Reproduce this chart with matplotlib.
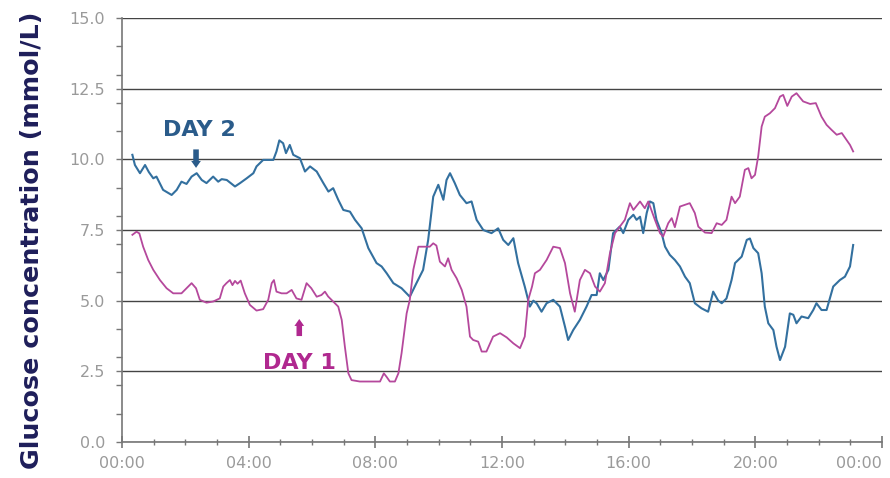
import matplotlib
matplotlib.use("Agg")
import matplotlib.pyplot as plt
from matplotlib.ticker import MultipleLocator

# hours since midnight and glucose (mmol/L)
day2_hours = [0.33, 0.41, 0.57, 0.73, 0.85, 0.99, 1.09, 1.30, 1.57, 1.73, 1.88, 2.04, 2.20, 2.36,
              2.52, 2.67, 2.88, 3.04, 3.15, 3.31, 3.57, 3.73, 3.94, 4.15, 4.25, 4.46, 4.78, 4.88,
              4.97, 5.09, 5.18, 5.30, 5.41, 5.62, 5.78, 5.94, 6.15, 6.36, 6.52, 6.67, 6.83, 6.99,
              7.20, 7.36, 7.57, 7.78, 8.04, 8.20, 8.36, 8.57, 8.83, 9.09, 9.30, 9.51, 9.67, 9.83,
              9.99, 10.15, 10.25, 10.36, 10.51, 10.67, 10.88, 11.04, 11.20, 11.41, 11.67, 11.88,
              12.04, 12.20, 12.36, 12.51, 12.72, 12.88, 12.99, 13.10, 13.25, 13.41, 13.62, 13.83,
              13.99, 14.09, 14.25, 14.46, 14.67, 14.83, 14.99, 15.09, 15.20, 15.36, 15.51, 15.72,
              15.83, 15.99, 16.15, 16.25, 16.36, 16.46, 16.57, 16.67, 16.78, 16.88, 17.04, 17.15,
              17.30, 17.46, 17.62, 17.78, 17.93, 18.09, 18.30, 18.51, 18.67, 18.83, 18.94, 19.09,
              19.25, 19.36, 19.57, 19.73, 19.83, 19.94, 20.09, 20.20, 20.30, 20.41, 20.57, 20.67,
              20.78, 20.94, 21.09, 21.20, 21.30, 21.46, 21.67, 21.83, 21.93, 22.09, 22.25, 22.46,
              22.67, 22.83, 22.99, 23.09]
day2_glucose = [10.16, 9.80, 9.51, 9.80, 9.55, 9.33, 9.39, 8.92, 8.74, 8.92, 9.21, 9.13, 9.39, 9.51,
                9.27, 9.16, 9.39, 9.21, 9.30, 9.27, 9.04, 9.16, 9.33, 9.51, 9.75, 9.98, 9.98, 10.28,
                10.67, 10.57, 10.22, 10.51, 10.16, 10.04, 9.57, 9.75, 9.57, 9.16, 8.86, 8.98, 8.57, 8.21,
                8.15, 7.86, 7.56, 6.86, 6.33, 6.21, 5.97, 5.62, 5.44, 5.14, 5.62, 6.09, 7.15, 8.68,
                9.10, 8.57, 9.27, 9.51, 9.16, 8.74, 8.45, 8.51, 7.86, 7.50, 7.39, 7.56,
                7.15, 6.97, 7.21, 6.33, 5.50, 4.79, 5.00, 4.90, 4.61, 4.91, 5.03, 4.79,
                4.08, 3.61, 3.96, 4.32, 4.79, 5.20, 5.20, 5.97, 5.73, 6.09, 7.39, 7.62,
                7.39, 7.86, 8.04, 7.86, 7.97, 7.39, 8.10, 8.51, 8.45, 7.86, 7.39, 6.91,
                6.62, 6.44, 6.21, 5.85, 5.62, 4.91, 4.73, 4.61, 5.32, 5.00, 4.91, 5.08,
                5.73, 6.33, 6.56, 7.15, 7.20, 6.86, 6.68, 5.97, 4.79, 4.20, 3.96, 3.37,
                2.90, 3.37, 4.55, 4.50, 4.20, 4.44, 4.38, 4.67, 4.91, 4.67, 4.67, 5.50,
                5.73, 5.85, 6.21, 6.97]

day1_hours = [0.33, 0.46, 0.55, 0.67, 0.83, 0.99, 1.20, 1.41, 1.62, 1.88, 2.04, 2.20, 2.34, 2.46,
              2.67, 2.88, 3.09, 3.20, 3.30, 3.41, 3.49, 3.57, 3.65, 3.75, 3.88, 4.04, 4.25, 4.46,
              4.62, 4.73, 4.80, 4.88, 5.04, 5.20, 5.36, 5.51, 5.67, 5.83, 5.98, 6.15, 6.30, 6.41,
              6.51, 6.67, 6.83, 6.94, 7.04, 7.15, 7.25, 7.51, 7.83, 8.15, 8.27, 8.36, 8.46, 8.62,
              8.73, 8.83, 8.99, 9.09, 9.20, 9.36, 9.57, 9.72, 9.83, 9.93, 10.04, 10.20, 10.30,
              10.41, 10.57, 10.73, 10.88, 10.99, 11.09, 11.25, 11.36, 11.51, 11.72, 11.94, 12.15,
              12.36, 12.57, 12.72, 12.83, 12.95, 13.04, 13.20, 13.41, 13.62, 13.83, 13.99, 14.15,
              14.30, 14.46, 14.62, 14.78, 14.94, 15.09, 15.25, 15.41, 15.57, 15.72, 15.88, 16.04,
              16.15, 16.25, 16.36, 16.51, 16.62, 16.72, 16.83, 16.99, 17.09, 17.25, 17.36, 17.46,
              17.62, 17.78, 17.93, 18.09, 18.20, 18.41, 18.62, 18.78, 18.94, 19.09, 19.25, 19.36,
              19.51, 19.67, 19.78, 19.88, 19.99, 20.09, 20.20, 20.30, 20.46, 20.62, 20.78, 20.88,
              21.01, 21.15, 21.30, 21.51, 21.73, 21.91, 22.09, 22.25, 22.41, 22.57, 22.73, 22.88,
              22.99, 23.09]
day1_glucose = [7.33, 7.44, 7.38, 6.91, 6.44, 6.09, 5.73, 5.44, 5.26, 5.26, 5.44, 5.62, 5.44, 5.03,
                4.93, 4.97, 5.08, 5.50, 5.62, 5.73, 5.55, 5.70, 5.60, 5.71, 5.26, 4.85, 4.65, 4.70,
                5.03, 5.62, 5.73, 5.32, 5.26, 5.26, 5.38, 5.08, 5.03, 5.62, 5.44, 5.14, 5.20, 5.32,
                5.15, 4.97, 4.79, 4.32, 3.37, 2.43, 2.19, 2.14, 2.14, 2.14, 2.43, 2.30, 2.14, 2.14,
                2.43, 3.14, 4.55, 5.03, 6.09, 6.91, 6.91, 6.91, 7.03, 6.95, 6.38, 6.21, 6.50,
                6.09, 5.79, 5.38, 4.79, 3.73, 3.61, 3.55, 3.20, 3.20, 3.73, 3.85, 3.70,
                3.49, 3.32, 3.73, 5.03, 5.50, 5.97, 6.09, 6.44, 6.91, 6.86, 6.33, 5.26,
                4.61, 5.73, 6.09, 5.97, 5.50, 5.32, 5.62, 6.68, 7.39, 7.62, 7.86, 8.45,
                8.21, 8.35, 8.51, 8.27, 8.51, 8.20, 7.86, 7.39, 7.27, 7.74, 7.92, 7.60,
                8.33, 8.39, 8.45, 8.10, 7.62, 7.41, 7.39, 7.74, 7.68, 7.86, 8.68, 8.45,
                8.68, 9.63, 9.69, 9.33, 9.45, 10.10, 11.16, 11.51, 11.63, 11.81, 12.22, 12.28,
                11.89, 12.22, 12.34, 12.05, 11.96, 11.99, 11.51, 11.22, 11.04, 10.87, 10.93, 10.69,
                10.51, 10.28]

tick_hours = [0, 4, 8, 12, 16, 20, 24]
tick_labels = ["00:00", "04:00", "08:00", "12:00", "16:00", "20:00", "00:00"]

blue = "#33709f"
magenta = "#b5489c"

fig = plt.figure(figsize=(8.9, 4.78), dpi=100)
ax = fig.add_axes([0.137, 0.0753, 0.854, 0.887])

ax.plot(day2_hours, day2_glucose, color=blue, linewidth=1.5)
ax.plot(day1_hours, day1_glucose, color=magenta, linewidth=1.3)

ax.set_xlim(0, 24)
ax.set_ylim(0, 15)
ax.set_xticks(tick_hours)
ax.set_xticklabels(tick_labels)
ax.xaxis.set_minor_locator(MultipleLocator(1))
ax.yaxis.set_major_locator(MultipleLocator(2.5))
ax.yaxis.set_minor_locator(MultipleLocator(1))
ax.yaxis.set_major_formatter(plt.FormatStrFormatter("%.1f"))

ax.grid(axis="y", color="#444444", linewidth=1.0)
ax.set_axisbelow(True)
for s in ["top", "right"]:
    ax.spines[s].set_visible(False)
for s in ["left", "bottom"]:
    ax.spines[s].set_color("#777777")
    ax.spines[s].set_linewidth(1.2)

ax.tick_params(axis="x", which="major", direction="inout", length=8, width=1.2,
               color="#777777", labelcolor="#9a9a9a", labelsize=11.5, pad=6)
ax.tick_params(axis="x", which="minor", direction="inout", length=4, width=1.0, color="#777777")
ax.tick_params(axis="y", which="both", direction="out", length=4, width=1.0,
               color="#777777", labelcolor="#9a9a9a", labelsize=11.5, pad=8)
# last "00:00" sits against the right edge
ax.get_xticklabels()[-1].set_horizontalalignment("right")

# annotations
ax.text(2.46, 11.05, "DAY 2", color="#2a5b8a", fontsize=16, fontweight="bold",
        ha="center", va="center")
ax.annotate("", xy=(2.34, 9.6), xytext=(2.34, 10.45),
            arrowprops=dict(arrowstyle="simple,head_width=0.7,head_length=0.5,tail_width=0.4",
                            color="#2a5b8a", lw=0))
ax.text(5.59, 2.8, "DAY 1", color="#b0288f", fontsize=16, fontweight="bold",
        ha="center", va="center")
ax.annotate("", xy=(5.6, 4.45), xytext=(5.6, 3.65),
            arrowprops=dict(arrowstyle="simple,head_width=0.7,head_length=0.5,tail_width=0.4",
                            color="#b0288f", lw=0))

fig.text(0.036, 0.498, "Glucose concentration (mmol/L)", rotation=90, color="#1e1e5a",
         fontsize=18.3, fontweight="bold", ha="center", va="center")

fig.savefig("out.png", dpi=100)
